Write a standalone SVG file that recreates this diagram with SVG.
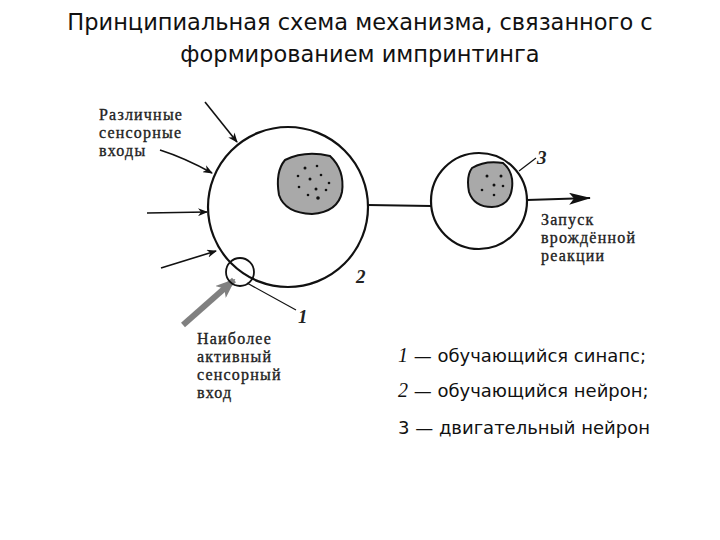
<svg xmlns="http://www.w3.org/2000/svg" width="720" height="540" viewBox="0 0 720 540">
<style>
.t{font-family:"DejaVu Sans",sans-serif;font-size:22.5px;fill:#111}
.l{font-family:"Liberation Serif",serif;font-size:16px;fill:#222;letter-spacing:1.2px;stroke:#222;stroke-width:0.35}
.n{font-family:"Liberation Serif",serif;font-size:19px;font-style:italic;fill:#222;font-weight:bold}
.g{font-family:"DejaVu Sans",sans-serif;font-size:18px;fill:#111}
.c{fill:#fff;stroke:#111;stroke-width:2.2}
.nu{fill:#a9a9a9;stroke:#111;stroke-width:2}
.a{stroke:#111;stroke-width:1.6;fill:none;marker-end:url(#ah)}
.d{fill:#111}
</style>
<defs>
<marker id="ah" markerWidth="10" markerHeight="8" refX="9" refY="4" orient="auto" markerUnits="userSpaceOnUse" viewBox="0 0 10 8"><path d="M0,0 L10,4 L0,8 L3,4Z" fill="#111"/></marker>
<marker id="gh" markerWidth="20" markerHeight="16" refX="18" refY="8" orient="auto" markerUnits="userSpaceOnUse" viewBox="0 0 20 16"><path d="M0,0 L20,8 L0,16 L5,8Z" fill="#808080"/></marker>
<marker id="oh" markerWidth="22" markerHeight="12" refX="21" refY="6" orient="auto" markerUnits="userSpaceOnUse" viewBox="0 0 22 12"><path d="M0,0 L22,6 L0,12 L5,6Z" fill="#111"/></marker>
</defs>
<text class="t" x="360" y="30" text-anchor="middle">Принципиальная схема механизма, связанного с</text>
<text class="t" x="360" y="62" text-anchor="middle">формированием импринтинга</text>
<g id="connectors">
<line x1="205" y1="102" x2="237" y2="142" class="a"/>
<path d="M160,150 Q185,158 212,173" class="a"/>
<line x1="147" y1="213" x2="207" y2="212" class="a"/>
<line x1="161" y1="268" x2="216" y2="251" class="a"/>
<line x1="183" y1="325" x2="234" y2="280" stroke="#808080" stroke-width="6" marker-end="url(#gh)"/>
<line x1="368" y1="205" x2="431" y2="206" stroke="#111" stroke-width="1.8"/>
<line x1="527" y1="200" x2="590" y2="198" stroke="#111" stroke-width="2" marker-end="url(#oh)"/>
<line x1="247" y1="283" x2="296" y2="310" stroke="#111" stroke-width="1.2"/>
<line x1="519" y1="171" x2="536" y2="158" stroke="#111" stroke-width="1.2"/>
</g>
<g id="neuron2">
<circle class="c" cx="288" cy="207" r="80"/>
<path class="nu" d="M285,160 Q305,150 330,156 Q345,170 342,192 Q338,212 312,214 Q285,213 279,195 Q275,172 285,160Z"/>
<g class="d"><circle cx="305" cy="168" r="1.5"/><circle cx="317" cy="166" r="1.3"/><circle cx="298" cy="176" r="1.3"/><circle cx="310" cy="179" r="1.5"/><circle cx="321" cy="175" r="1.3"/><circle cx="329" cy="183" r="1.3"/><circle cx="299" cy="187" r="1.3"/><circle cx="316" cy="189" r="1.5"/><circle cx="308" cy="195" r="1.3"/><circle cx="326" cy="190" r="1.3"/><circle cx="318" cy="198" r="1.8"/></g>
<text class="n" x="356" y="283" font-style="normal">2</text>
</g>
<g id="synapse1">
<circle cx="240" cy="272" r="14" fill="none" stroke="#111" stroke-width="1.8"/>
<text class="n" x="298" y="323">1</text>
</g>
<g id="neuron3">
<circle class="c" cx="479" cy="201" r="48"/>
<path class="nu" d="M472,168 Q485,160 503,163 Q514,172 512,188 Q510,206 492,207 Q474,207 469,192 Q466,176 472,168Z"/>
<g class="d"><circle cx="487" cy="176" r="1.5"/><circle cx="501" cy="176" r="1.5"/><circle cx="494" cy="185" r="1.5"/><circle cx="503" cy="186" r="1.3"/><circle cx="482" cy="190" r="1.3"/><circle cx="494" cy="195" r="1.3"/></g>
<text class="n" x="537" y="164">3</text>
</g>
<g id="labels">
<text class="l"><tspan x="99" y="120">Различные</tspan><tspan x="99" y="138">сенсорные</tspan><tspan x="99" y="156">входы</tspan></text>
<text class="l"><tspan x="197" y="344">Наиболее</tspan><tspan x="197" y="362">активный</tspan><tspan x="197" y="380">сенсорный</tspan><tspan x="197" y="398">вход</tspan></text>
<text class="l"><tspan x="541" y="225">Запуск</tspan><tspan x="541" y="243">врождённой</tspan><tspan x="541" y="261">реакции</tspan></text>
</g>
<g id="legend">
<text class="g" x="398" y="362"><tspan font-family="Liberation Serif" font-style="italic" font-size="20">1</tspan> — обучающийся синапс;</text>
<text class="g" x="398" y="397"><tspan font-family="Liberation Serif" font-style="italic" font-size="20">2</tspan> — обучающийся нейрон;</text>
<text class="g" x="398" y="434">3 — двигательный нейрон</text>
</g>
</svg>
